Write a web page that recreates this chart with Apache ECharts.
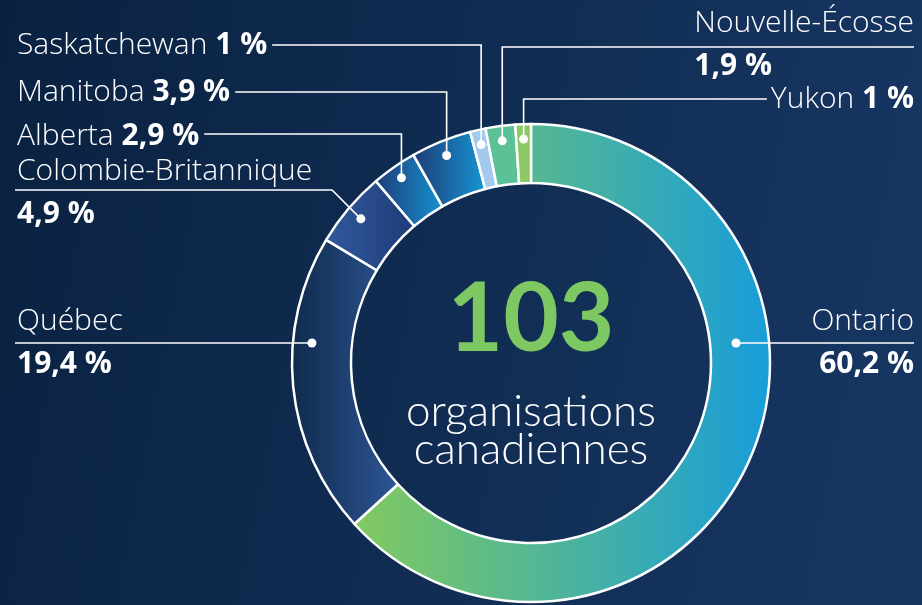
<!DOCTYPE html>
<html lang="fr">
<head>
<meta charset="UTF-8">
<title>Organisations canadiennes</title>
<script src="https://cdn.jsdelivr.net/npm/echarts@6/dist/echarts.min.js"></script>
<style>
  html, body { margin: 0; padding: 0; background: #0d2648; }
  #chart { width: 922px; height: 605px; }
</style>
</head>
<body>
<div id="chart"></div>
<script>
// donnees
var provinces = ['Ontario', 'Québec', 'Colombie-Britannique', 'Alberta', 'Manitoba', 'Saskatchewan', 'Nouvelle-Écosse', 'Yukon'];
var shares = [60.2, 19.4, 4.9, 2.9, 3.9, 1, 1.9, 1];
var totalOrgs = 103;

// couleurs des secteurs (degrade gauche -> droite)
var colorFrom = ['#82ca5f', '#0f2a4c', '#30599c', '#1e3b77', '#1e3b77', '#a3c9ec', '#5bc196', '#8cc866'];
var colorTo   = ['#189dd9', '#2e5796', '#1f3c77', '#1593d0', '#1596d3', '#a3c9ec', '#5bc196', '#8cc866'];

// mise en page des etiquettes
var CX = 531, CY = 363, R0 = 180, R1 = 239;
var LEFT_X = 17, RIGHT_X = 914;
var labelSide = ['right', 'left', 'left', 'left', 'left', 'left', 'right', 'right'];
var twoLines  = [true, true, true, false, false, false, true, false];
var lineY     = [343, 343, 190, 134, 92, 45, 47, 99];
var labelY    = [343, 343, 193, 136, 92, 45, 45, 99];
var leader    = ['across', 'across', 'diag', 'elbow', 'elbow', 'elbow', 'elbow', 'elbow'];
var dotR      = [206, 220, 223, 226, 224, 224, 224, 224];
var FONT = 'Open Sans';

var total = shares.reduce(function (a, b) { return a + b; }, 0);

function midAngle(i) {
    var before = 0;
    for (var k = 0; k < i; k++) before += shares[k];
    var frac = (before + shares[i] / 2) / total;
    return (90 - frac * 360) * Math.PI / 180;
}

function dotPos(i) {
    if (leader[i] === 'across') {
        var dy = lineY[i] - CY;
        var dx = Math.sqrt(dotR[i] * dotR[i] - dy * dy);
        return [CX + (labelSide[i] === 'right' ? dx : -dx), lineY[i]];
    }
    var a = midAngle(i);
    return [CX + dotR[i] * Math.cos(a), CY - dotR[i] * Math.sin(a)];
}

function pct(v) {
    return String(v).replace('.', ',') + ' %';
}

var ringData = provinces.map(function (name, i) {
    return {
        name: name,
        value: shares[i],
        itemStyle: {
            color: new echarts.graphic.LinearGradient(0, 0, 1, 0, [
                { offset: 0, color: colorFrom[i] },
                { offset: 1, color: colorTo[i] }
            ])
        }
    };
});

var txt = { color: '#fff', fontFamily: FONT, fontSize: 30, lineHeight: 43 };

var option = {
    backgroundColor: new echarts.graphic.LinearGradient(0, 0, 1, 0.3, [
        { offset: 0, color: '#0a2241' },
        { offset: 1, color: '#163561' }
    ]),
    animation: false,
    graphic: [{
        type: 'text', x: CX, y: 320,
        style: { text: String(totalOrgs), fill: '#7dc862', font: 'bold 96px Lato', textAlign: 'center', textVerticalAlign: 'middle' }
    }, {
        type: 'text', x: CX, y: 412,
        style: { text: 'organisations', fill: '#fff', font: '300 44px Lato', textAlign: 'center', textVerticalAlign: 'middle' }
    }, {
        type: 'text', x: CX, y: 450,
        style: { text: 'canadiennes', fill: '#fff', font: '300 44px Lato', textAlign: 'center', textVerticalAlign: 'middle' }
    }],
    series: [{
        // anneau + points blancs
        type: 'pie',
        center: [CX, CY],
        radius: [R0, R1],
        startAngle: 90,
        clockwise: true,
        silent: true,
        avoidLabelOverlap: false,
        itemStyle: { borderColor: '#fff', borderWidth: 2.5 },
        emphasis: { disabled: true },
        label: {
            show: true,
            formatter: '{d| }',
            rich: { d: { width: 9, height: 9, borderRadius: 5, backgroundColor: '#fff' } }
        },
        labelLine: { show: false },
        labelLayout: function (p) {
            var d = dotPos(p.dataIndex);
            return { x: d[0], y: d[1], align: 'center', verticalAlign: 'middle' };
        },
        data: ringData
    }, {
        // etiquettes et traits, au-dessus de l'anneau
        type: 'pie',
        center: [CX, CY],
        radius: [R0, R1],
        startAngle: 90,
        silent: true,
        z: 5,
        avoidLabelOverlap: false,
        itemStyle: { color: 'rgba(0,0,0,0)', borderWidth: 0 },
        emphasis: { disabled: true },
        label: {
            show: true,
            position: 'outside',
            formatter: function (p) {
                if (twoLines[p.dataIndex]) {
                    return '{n|' + p.name + '}\n{b|' + pct(p.value) + '}';
                }
                return '{n|' + p.name + ' }{b|' + pct(p.value) + '}';
            },
            rich: {
                n: Object.assign({ fontWeight: 300 }, txt),
                b: Object.assign({ fontWeight: 700 }, txt)
            }
        },
        labelLine: { show: true, lineStyle: { color: '#fff', width: 1.6 } },
        labelLayout: function (p) {
            var i = p.dataIndex, w = p.labelRect.width, y = lineY[i];
            var d = dotPos(i), pts, x, align;
            if (labelSide[i] === 'left') {
                x = LEFT_X; align = 'left';
            } else if (twoLines[i] && leader[i] === 'elbow') {
                x = RIGHT_X - w; align = 'left';
            } else {
                x = RIGHT_X; align = 'right';
            }
            var endX;
            if (twoLines[i]) {
                endX = labelSide[i] === 'left' ? LEFT_X - 2 : RIGHT_X;
            } else {
                endX = labelSide[i] === 'left' ? LEFT_X + w + 5 : RIGHT_X - w - 4;
            }
            if (leader[i] === 'across') {
                pts = [d, [endX, y]];
            } else if (leader[i] === 'diag') {
                pts = [d, [d[0] - (d[1] - y), y], [endX, y]];
            } else {
                pts = [d, [d[0], y], [endX, y]];
            }
            return { x: x, y: labelY[i], align: align, verticalAlign: 'middle', labelLinePoints: pts };
        },
        data: shares.map(function (v, i) { return { name: provinces[i], value: v }; })
    }]
};

var myChart = echarts.init(document.getElementById('chart'));
myChart.setOption(option);
</script>
</body>
</html>
